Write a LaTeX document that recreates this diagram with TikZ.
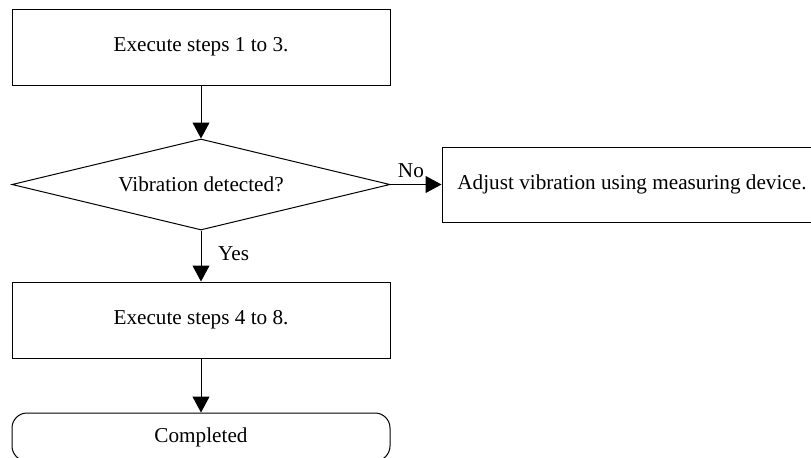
\documentclass[tikz,border=0pt]{standalone}
\usepackage{fontspec}
\setmainfont{Liberation Serif}
\usetikzlibrary{shapes.geometric,arrows.meta}

\begin{document}
\begin{tikzpicture}[x=0.5pt, y=-0.5pt,
    every node/.style={font=\fontsize{10.6}{12}\selectfont},
    proc/.style={draw, rectangle, line width=0.5pt, minimum width=189pt,
                 minimum height=38pt, text centered},
    decision/.style={draw, diamond, line width=0.5pt, aspect=4.15, inner sep=0pt,
                     minimum width=189pt, minimum height=45.5pt},
    term/.style={draw, rectangle, rounded corners=7.5pt, line width=0.5pt,
                 minimum width=189pt, minimum height=24pt},
    flow/.style={-{Triangle[length=8pt,width=8.5pt]}, line width=0.5pt}
]
    \useasboundingbox (0,0) rectangle (811,457);

    \node[proc] (steps1) at (201,47) {Execute steps 1 to 3.};
    \node[decision] (vib) at (201,184.5) {Vibration detected?};
    \node[proc, minimum width=190pt, minimum height=37.5pt] (adjust) at (632,184.5)
        {Adjust vibration using measuring device.};
    \node[proc] (steps4) at (201,320) {Execute steps 4 to 8.};
    \node[term] (done) at (201,437) {Completed};

    \draw[flow] (steps1) -- (vib);
    \draw[flow] (vib) -- node[above, pos=0.4] {No} (adjust);
    \draw[flow] (vib) -- node[right, xshift=5pt, yshift=1pt] {Yes} (steps4);
    \draw[flow] (steps4) -- (done);
\end{tikzpicture}
\end{document}
